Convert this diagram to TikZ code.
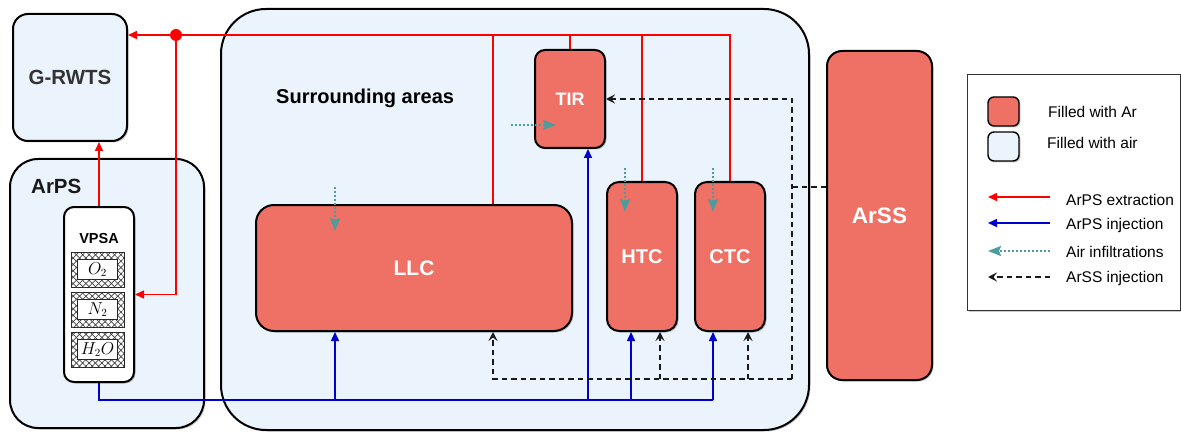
\documentclass[tikz,border=0pt]{standalone}
\usepackage{fontspec}
\setmainfont{Liberation Sans}
\usetikzlibrary{arrows.meta,shadows,patterns.meta,calc}
\definecolor{arfill}{HTML}{EF7064}
\definecolor{airfill}{HTML}{EBF3FD}
\definecolor{redc}{HTML}{FF0000}
\definecolor{bluec}{HTML}{0000CC}
\definecolor{tealc}{HTML}{4E9D9D}
\definecolor{darkc}{HTML}{333333}
\tikzset{
  shbox/.style={draw=black, line width=2pt, rounded corners=#1, inner sep=0pt,
    drop shadow={shadow xshift=1.5pt, shadow yshift=-1.5pt, opacity=0.2, fill=black}},
  shbox/.default=12pt,
  arbox/.style={shbox=#1, fill=arfill, text=white, font=\bfseries\fontsize{20}{24}\selectfont},
  arbox/.default=12pt,
  airbox/.style={shbox=#1, fill=airfill},
  airbox/.default=12pt,
  hatchbox/.style={draw=black!85, line width=0.8pt, minimum width=53pt, minimum height=35pt, inner sep=0pt,
    pattern={Lines[angle=45,distance=4.5pt,line width=0.7pt]}, pattern color=black!75,
    postaction={pattern={Lines[angle=-45,distance=4.5pt,line width=0.7pt]}, pattern color=black!75}},
  hatchin/.style={draw=black!85, line width=0.8pt, fill=white, minimum width=40pt, minimum height=20pt, inner sep=0pt,
    font=\fontsize{16}{18}\selectfont},
  redline/.style={draw=redc, line width=1.5pt},
  redarrow/.style={redline, -{Triangle[length=9pt,width=8pt]}},
  blueline/.style={draw=bluec, line width=1.5pt},
  bluearrow/.style={blueline, -{Triangle[length=9pt,width=8pt]}},
  dashline/.style={draw=black!90, line width=1.5pt, dash pattern=on 5.5pt off 4pt},
  dasharrow/.style={dashline, -{Stealth[length=9pt,width=9pt,inset=3.5pt]}},
  tealarrow/.style={draw=tealc, line width=2pt, dash pattern=on 2pt off 2pt, -{Stealth[length=13pt,width=10pt,inset=2pt]}},
  lbl/.style={anchor=west, inner sep=0pt, font=\fontsize{15.5}{18}\selectfont},
}
\begin{document}
\begin{tikzpicture}[x=1pt,y=-1pt]
\useasboundingbox (0,0) rectangle (1181,433);

% containers
\node[airbox=45pt, minimum width=588pt, minimum height=421pt] (surr) at (515,219.5) {};
\node[anchor=west, inner sep=0pt, font=\bfseries\fontsize{20}{24}\selectfont] (surrlbl) at (276,98) {Surrounding areas};
\node[airbox=15pt, minimum width=114pt, minimum height=127pt, text=darkc, font=\bfseries\fontsize{20.5}{24}\selectfont] (grwts) at (70,77.5) {G-RWTS};
\node[airbox=28pt, minimum width=194pt, minimum height=269pt] (arps) at (107,293.5) {};
\node[anchor=west, inner sep=0pt, text=black!90, font=\bfseries\fontsize{20.5}{24}\selectfont] (arpslbl) at (31,186) {ArPS};

% VPSA
\node[shbox=10pt, fill=white, minimum width=70pt, minimum height=175pt] (vpsa) at (99,294.5) {};
\node[font=\bfseries\fontsize{14.5}{17}\selectfont] (vpsalbl) at (99,239) {VPSA};
\node[hatchbox] (o2h) at (97.5,269.5) {};
\node[hatchin] (o2) at (97.5,269.5) {$O_2$};
\node[hatchbox] (n2h) at (97.5,309.5) {};
\node[hatchin] (n2) at (97.5,309.5) {$N_2$};
\node[hatchbox] (h2oh) at (97.5,349.5) {};
\node[hatchin] (h2o) at (97.5,349.5) {$H_2O$};

% Ar-filled units
\node[arbox=10pt, minimum width=70pt, minimum height=98pt, font=\bfseries\fontsize{18}{21}\selectfont] (tir) at (570,99) {TIR};
\node[arbox=18pt, minimum width=316pt, minimum height=126pt, font=\bfseries\fontsize{21}{24}\selectfont] (llc) at (414,268) {LLC};
\node[arbox=12pt, minimum width=70pt, minimum height=149pt] (htc) at (642,256.5) {HTC};
\node[arbox=12pt, minimum width=70pt, minimum height=149pt] (ctc) at (730,256.5) {CTC};
\node[arbox=15pt, minimum width=105pt, minimum height=329pt, font=\bfseries\fontsize{22.5}{26}\selectfont] (arss) at (879.5,215.5) {ArSS};

% red: ArPS extraction
\coordinate (dot) at (176,35);
\coordinate (llcTap) at ([xshift=79pt]llc.north);
\draw[redline] (ctc.north) |- (dot);
\draw[redline] (htc.north) -- (htc.north |- dot);
\draw[redline] (tir.north) -- (tir.north |- dot);
\draw[redline] (llcTap) -- (llcTap |- dot);
\draw[redarrow] (dot) -- (dot -| grwts.east);
\draw[redarrow] (dot) |- (vpsa.east);
\draw[redarrow] (vpsa.north) -- (vpsa.north |- grwts.south);
\fill[redc] (dot) circle (6pt);

% blue: ArPS injection
\coordinate (bLLC) at (335,400);
\coordinate (bTIR) at (588,400);
\coordinate (bHTC) at (631,400);
\coordinate (bCTC) at (713,400);
\draw[blueline] (vpsa.south) |- (bCTC);
\draw[bluearrow] (bLLC) -- (bLLC |- llc.south);
\draw[bluearrow] (bTIR) -- (bTIR |- tir.south);
\draw[bluearrow] (bHTC) -- (bHTC |- htc.south);
\draw[bluearrow] (bCTC) -- (bCTC |- ctc.south);

% black dashed: ArSS injection
\coordinate (dJ) at (792,187);
\coordinate (dB) at (792,379);
\coordinate (dLLC) at (493,379);
\coordinate (dHTC) at (660,379);
\coordinate (dCTC) at (748,379);
\draw[dashline] (arss.west |- dJ) -- (dJ);
\draw[dasharrow] (dB) |- (tir.east);
\draw[dasharrow] (dB) -- (dLLC) -- (dLLC |- llc.south);
\draw[dasharrow] (dHTC) -- (dHTC |- htc.south);
\draw[dasharrow] (dCTC) -- (dCTC |- ctc.south);

% teal: air infiltrations
\coordinate (tLLC0) at (335,187); \coordinate (tLLC1) at (335,231);
\coordinate (tTIR0) at (511,125); \coordinate (tTIR1) at (556,125);
\coordinate (tHTC0) at (625,168); \coordinate (tHTC1) at (625,212);
\coordinate (tCTC0) at (713,168); \coordinate (tCTC1) at (713,212);
\draw[tealarrow] (tLLC0) -- (tLLC1);
\draw[tealarrow] (tTIR0) -- (tTIR1);
\draw[tealarrow] (tHTC0) -- (tHTC1);
\draw[tealarrow] (tCTC0) -- (tCTC1);

% legend
\node[draw=black!80, line width=1pt, fill=white, inner sep=0pt, minimum width=213pt, minimum height=235pt,
  drop shadow={shadow xshift=1.5pt, shadow yshift=-1.5pt, opacity=0.2, fill=black}] (legend) at (1073.5,192.5) {};
\node[arbox=6pt, line width=1.4pt, minimum width=31pt, minimum height=29pt] (swar) at (1003.5,111.5) {};
\node[airbox=6pt, line width=1.4pt, minimum width=31pt, minimum height=29pt] (swair) at (1003.5,146.5) {};
\node[lbl] (ltar) at (1048,112) {Filled with Ar};
\node[lbl] (ltair) at (1047,143) {Filled with air};
\coordinate (l1a) at (1050,197); \coordinate (l1b) at (988,197);
\coordinate (l2a) at (1050,223); \coordinate (l2b) at (988,223);
\coordinate (l3a) at (1050,251); \coordinate (l3b) at (988,251);
\coordinate (l4a) at (1050,277); \coordinate (l4b) at (988,277);
\draw[redarrow] (l1a) -- (l1b);
\draw[bluearrow] (l2a) -- (l2b);
\draw[tealarrow] (l3a) -- (l3b);
\draw[dasharrow] (l4a) -- (l4b);
\node[lbl] (lt1) at (1066,200) {ArPS extraction};
\node[lbl] (lt2) at (1066,225) {ArPS injection};
\node[lbl] (lt3) at (1066,252) {Air infiltrations};
\node[lbl] (lt4) at (1066,278) {ArSS injection};
\end{tikzpicture}
\end{document}
